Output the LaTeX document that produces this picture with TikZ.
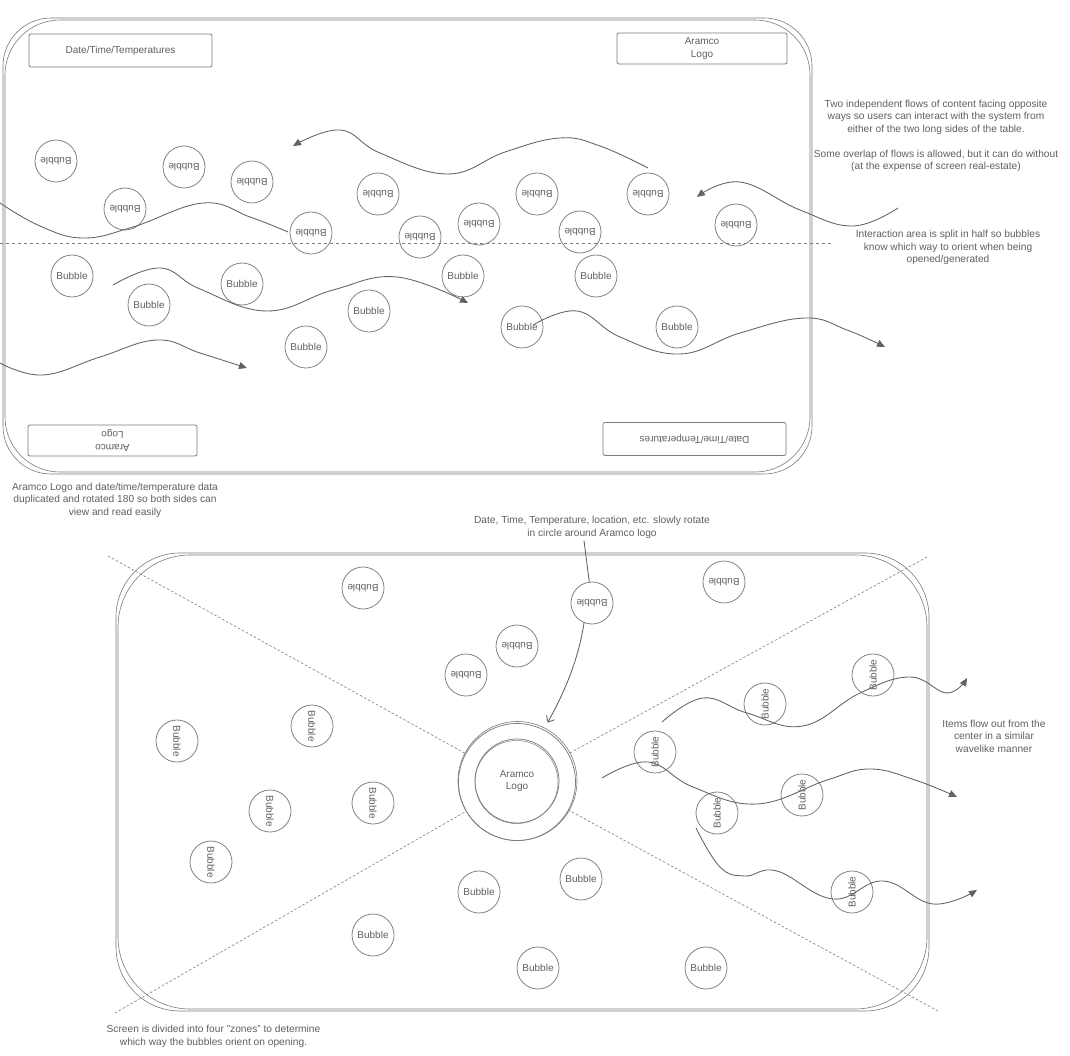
\documentclass[tikz,border=0pt]{standalone}
\usepackage{fontspec}
\setmainfont{Liberation Sans}
\usetikzlibrary{arrows.meta,calc}
\definecolor{ln}{HTML}{7C7C7C}
\definecolor{fl}{HTML}{626262}
\definecolor{tx}{HTML}{606060}
\begin{document}
\begin{tikzpicture}[x=1pt,y=-1pt,
  bubble/.style={circle,draw=ln,line width=0.75pt,minimum size=42pt,inner sep=0pt,text=tx,font=\fontsize{10}{12}\selectfont},
  note/.style={align=center,text=tx,font=\fontsize{10.2}{12.5}\selectfont,inner sep=0pt},
  panel/.style={draw=ln,line width=0.6pt},
  tag/.style={draw=ln,line width=0.75pt,rounded corners=2pt,align=center,text=tx,font=\fontsize{10}{12.5}\selectfont,inner sep=0pt},
  flow/.style={draw=fl,line width=0.85pt},
  filltip/.style={-{Triangle[length=8pt,width=7pt]}},
  opentip/.style={-{Straight Barb[length=5pt,width=9pt]}},
  zone/.style={draw=ln,line width=0.6pt,dash pattern=on 2.5pt off 2pt},
  halfline/.style={draw=ln,line width=0.7pt,dash pattern=on 3pt off 3pt},
]
\useasboundingbox[fill=white] (0,0) rectangle (1070,1056);

%% ---------------- top panel ----------------
\draw[panel,rounded corners=55pt] (5,20) rectangle (810,472);
\draw[panel,rounded corners=48pt] (3,18) rectangle (812,474);

\node[tag,minimum width=183,minimum height=33] (tl) at (120.5,50.5) {Date/Time/Temperatures};
\node[tag,minimum width=170,minimum height=31] (tr) at (702,48.5) {Aramco\\Logo};
\node[tag,minimum width=169,minimum height=31,rotate=180] (bl) at (112.5,440.5) {Aramco\\Logo};
\node[tag,minimum width=183,minimum height=33,rotate=180] (br) at (694.5,439) {Date/Time/Temperatures};

\coordinate (hl) at (0,243);
\coordinate (hr) at (832,243);
\draw[halfline] (hl) -- (hr);

% upside-down bubbles
\node[bubble,rotate=180] (u1) at (56,161) {Bubble};
\node[bubble,rotate=180] (u2) at (184,167) {Bubble};
\node[bubble,rotate=180] (u3) at (252,182) {Bubble};
\node[bubble,rotate=180] (u4) at (125,209) {Bubble};
\node[bubble,rotate=180] (u5) at (311,233) {Bubble};
\node[bubble,rotate=180] (u6) at (378,194) {Bubble};
\node[bubble,rotate=180] (u7) at (537,194) {Bubble};
\node[bubble,rotate=180] (u8) at (648,194) {Bubble};
\node[bubble,rotate=180] (u9) at (420,237) {Bubble};
\node[bubble,rotate=180] (u10) at (479,224) {Bubble};
\node[bubble,rotate=180] (u11) at (580,232) {Bubble};
\node[bubble,rotate=180] (u12) at (736,225) {Bubble};
% upright bubbles
\node[bubble] (d1) at (72,276) {Bubble};
\node[bubble] (d2) at (149,305) {Bubble};
\node[bubble] (d3) at (242,284) {Bubble};
\node[bubble] (d4) at (463,276) {Bubble};
\node[bubble] (d5) at (596,276) {Bubble};
\node[bubble] (d6) at (369,311) {Bubble};
\node[bubble] (d7) at (306,347) {Bubble};
\node[bubble] (d8) at (522,327) {Bubble};
\node[bubble] (d9) at (677,327) {Bubble};

% flows (top)
\draw[flow,filltip] plot[smooth,tension=0.7] coordinates {(648,168) (600,146) (560,138) (505,152) (448,174) (380,153) (340,130) (293,146)};
\draw[flow,filltip] plot[smooth,tension=0.7] coordinates {(898,208) (853,226) (800,210) (740,182) (697,197)};
\draw[flow] plot[smooth,tension=0.7] coordinates {(0,203) (40,226) (83,238) (133,227) (203,203) (250,217) (288,232)};
\draw[flow,filltip] plot[smooth,tension=0.7] coordinates {(113,285) (160,268) (200,289) (267,311) (333,290) (397,277) (468,303)};
\draw[flow,filltip] plot[smooth,tension=0.7] coordinates {(0,363) (43,375) (100,357) (157,340) (200,353) (247,368)};
\draw[flow,filltip] plot[smooth,tension=0.7] coordinates {(533,325) (577,311) (620,337) (680,354) (740,333) (805,318) (847,330) (885,347)};

% notes (top)
\node[note] (n1) at (936,136) {Two independent flows of content facing opposite\\ways so users can interact with the system from\\either of the two long sides of the table.\\[12.5pt]Some overlap of flows is allowed, but it can do without\\(at the expense of screen real-estate)};
\node[note] (n2) at (948,247.5) {Interaction area is split in half so bubbles\\know which way to orient when being\\opened/generated};
\node[note] (n3) at (115,500) {Aramco Logo and date/time/temperature data\\duplicated and rotated 180 so both sides can\\view and read easily};

%% ---------------- bottom panel ----------------
\draw[panel,rounded corners=72pt] (118,555) rectangle (927,1009);
\draw[panel,rounded corners=64pt] (116,553) rectangle (929,1011);

\node[circle,draw=ln,line width=0.75pt,minimum size=117pt,inner sep=0pt] (logo) at (517,782) {};
\draw[ln,line width=0.6pt] (517.5,781) circle[radius=59.5];
\node[circle,draw=ln,line width=0.75pt,minimum size=84pt,inner sep=0pt,align=center,text=tx,font=\fontsize{10}{12.5}\selectfont] (logoin) at (517,781) {Aramco\\Logo};
\draw[ln,line width=0.5pt] (516.5,782) circle[radius=41.5];

% zones
\coordinate (zA) at (108,556);
\coordinate (zB) at (927,557);
\coordinate (zC) at (115,1013);
\coordinate (zD) at (938,1011);
\draw[zone] (zA) -- (logo);
\draw[zone] (zB) -- (logo);
\draw[zone] (zC) -- (logo);
\draw[zone] (zD) -- (logo);

% bubbles (bottom panel)
\node[bubble,rotate=180] (bubT) at (592,603) {Bubble};
\node[bubble,rotate=180] (t2) at (363,588) {Bubble};
\node[bubble,rotate=180] (t3) at (724,582) {Bubble};
\node[bubble,rotate=180] (t4) at (517,646) {Bubble};
\node[bubble,rotate=180] (t5) at (466,675) {Bubble};
\node[bubble,rotate=-90] (l1) at (177,741) {Bubble};
\node[bubble,rotate=-90] (l2) at (312,726) {Bubble};
\node[bubble,rotate=-90] (l3) at (270,811) {Bubble};
\node[bubble,rotate=-90] (l4) at (373,803) {Bubble};
\node[bubble,rotate=-90] (l5) at (211,862) {Bubble};
\node[bubble,rotate=90] (r1) at (655,752) {Bubble};
\node[bubble,rotate=90] (r2) at (765,704) {Bubble};
\node[bubble,rotate=90] (r3) at (873,675) {Bubble};
\node[bubble,rotate=90] (r4) at (717,813) {Bubble};
\node[bubble,rotate=90] (r5) at (802,795) {Bubble};
\node[bubble,rotate=90] (r6) at (852,892) {Bubble};
\node[bubble] (w1) at (479,892) {Bubble};
\node[bubble] (w2) at (581,879) {Bubble};
\node[bubble] (w3) at (373,935) {Bubble};
\node[bubble] (w4) at (538,968) {Bubble};
\node[bubble] (w5) at (706,968) {Bubble};

% notes (bottom)
\node[note] (dtl) at (592,527.5) {Date, Time, Temperature, location, etc. slowly rotate\\in circle around Aramco logo};
\node[note] (n5) at (994,736) {Items flow out from the\\center in a similar\\wavelike manner};
\node[note] (n6) at (213.5,1036.5) {Screen is divided into four "zones" to determine\\which way the bubbles orient on opening.};

% rotation connector
\draw[flow] ([xshift=-8pt,yshift=-2pt]dtl.south) -- (bubT);
\draw[flow,opentip,shorten >=8pt] ($(bubT.center)+(-8,20)$) .. controls (578,662) and (563,695) .. (logo.63);

% outward flows
\draw[flow,filltip] plot[smooth,tension=0.7] coordinates {(662,722) (703,698) (747,713) (803,726) (860,693) (910,677) (947,693) (967,678)};
\draw[flow,filltip] plot[smooth,tension=0.7] coordinates {(602,778) (648,762) (693,787) (757,804) (827,780) (870,769) (915,780) (957,797)};
\draw[flow,filltip] plot[smooth,tension=0.7] coordinates {(696,828) (720,867) (745,876) (777,871) (833,899) (883,881) (933,904) (977,890)};
\end{tikzpicture}
\end{document}
